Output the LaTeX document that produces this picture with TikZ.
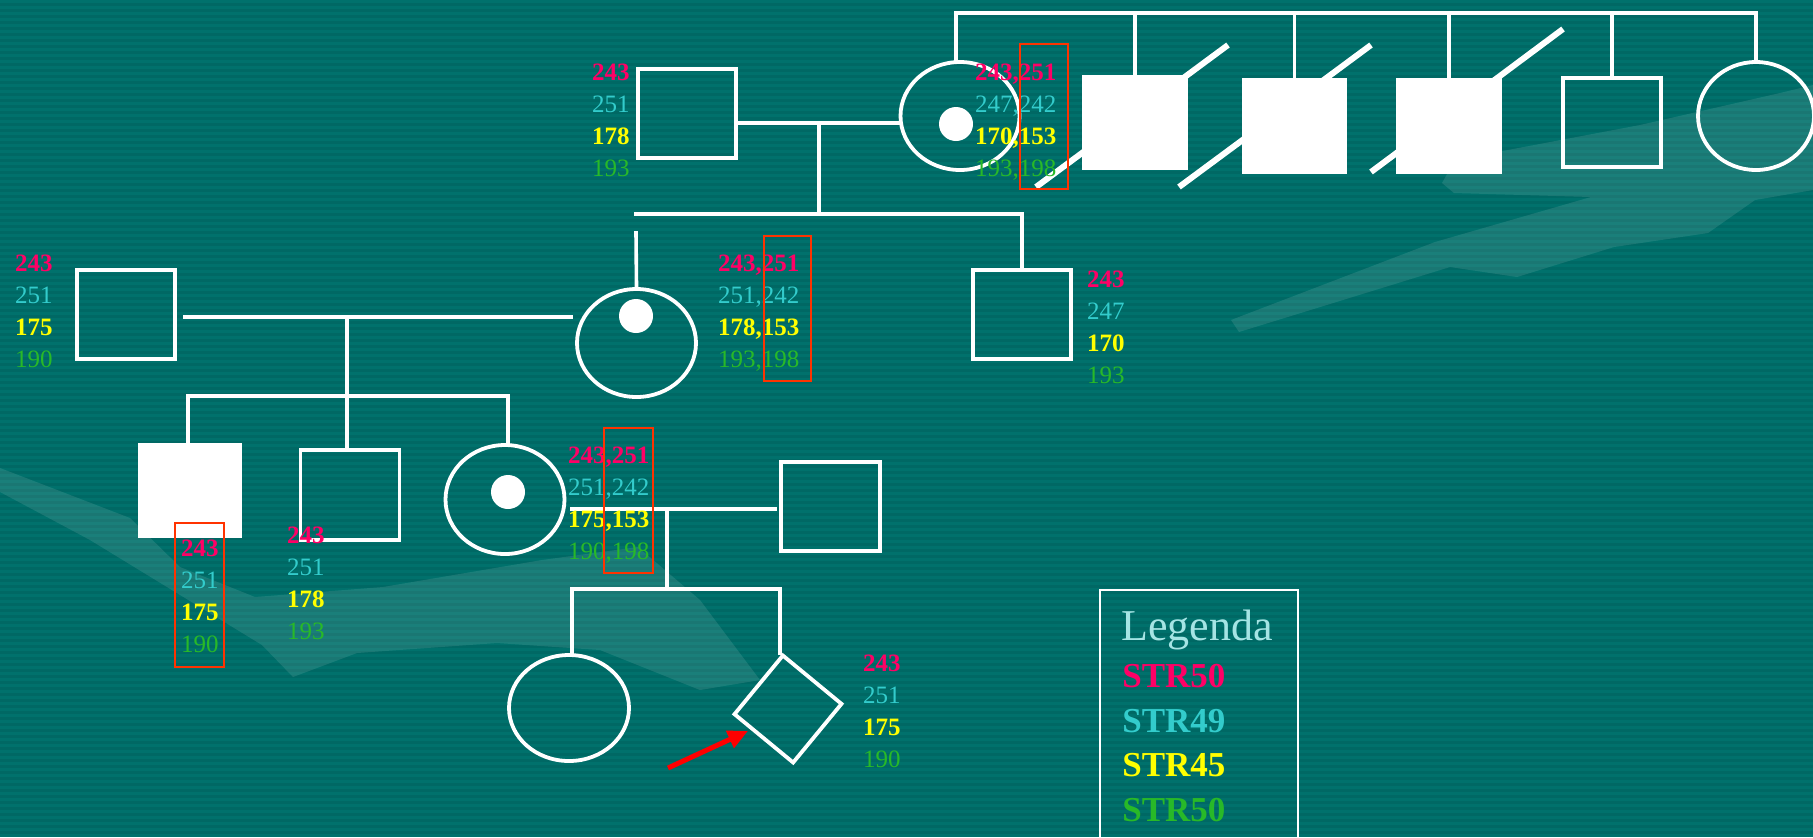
\documentclass[tikz,border=0pt]{standalone}
\usepackage{fontspec}
\setmainfont{Liberation Serif}
\usetikzlibrary{shapes.geometric,arrows.meta}
\definecolor{bg}{RGB}{0,104,100}
\definecolor{bgl}{RGB}{0,113,108}
\definecolor{cRed}{RGB}{255,0,102}
\definecolor{cTeal}{RGB}{51,204,204}
\definecolor{cYel}{RGB}{255,255,0}
\definecolor{cGrn}{RGB}{40,185,40}
\definecolor{cBox}{RGB}{255,51,0}
\definecolor{cLeg}{RGB}{165,228,228}
\tikzset{
  stripe/.style={bgl, line width=1.4pt},
  swoosh/.style={fill=white, fill opacity=0.10, draw=none},
  ln/.style={white, line width=1.8pt, line cap=rect},
  slashln/.style={white, line width=3pt},
  sq/.style={rectangle, draw=white, line width=1.9pt, inner sep=0pt},
  sqf/.style={rectangle, fill=white, inner sep=0pt},
  fem/.style={ellipse, draw=white, line width=1.9pt, inner sep=0pt},
  dotc/.style={circle, fill=white, inner sep=0pt, minimum size=17pt},
  hbox/.style={draw=cBox, line width=1.2pt},
  al/.style={anchor=base west, inner sep=0pt, outer sep=0pt},
  a1/.style={al, text=cRed, font=\fontsize{12.5}{15}\selectfont\bfseries},
  a2/.style={al, text=cTeal, font=\fontsize{12.5}{15}\selectfont},
  a3/.style={al, text=cYel, font=\fontsize{12.5}{15}\selectfont\bfseries},
  a4/.style={al, text=cGrn, font=\fontsize{12.5}{15}\selectfont},
  leg/.style={anchor=base west, inner sep=0pt},
  legbox/.style={draw=white, line width=1pt},
  redarrow/.style={draw=red, line width=2.5pt, -{Triangle[length=10pt,width=9pt]}}
}
\newcommand\alleles[7]{%
  \node[a1] (#1a) at (#2,#3+8.5) {#4};
  \node[a2] (#1b) at (#2,#3+40.5) {#5};
  \node[a3] (#1c) at (#2,#3+72.5) {#6};
  \node[a4] (#1d) at (#2,#3+104.5) {#7};}
\begin{document}
\begin{tikzpicture}[x=0.5pt,y=-0.5pt]
\useasboundingbox (0,0) rectangle (1813,837);
\fill[bg] (0,0) rectangle (1813,837);
\foreach \k in {0,...,139} \draw[stripe] (0,\k*6+1.5) -- (1813,\k*6+1.5);
% background swooshes
\fill[swoosh] (1442,183) -- (1455,160) -- (1640,125) -- (1780,93) -- (1813,85) -- (1813,190) -- (1755,200) -- (1708,233) -- (1614,247) -- (1517,277) -- (1450,267) -- (1239,332) -- (1231,320) -- (1435,242) -- (1591,197) -- (1454,193) -- cycle;
\fill[swoosh] (0,468) -- (130,518) -- (180,567) -- (255,597) -- (383,587) -- (542,560) -- (638,547) -- (700,600) -- (760,680) -- (700,690) -- (600,650) -- (497,643) -- (357,653) -- (293,677) -- (262,645) -- (90,540) -- (0,492) -- cycle;

% ---------- generation 1 ----------
\node[sq, minimum width=49pt, minimum height=44.5pt] (F1) at (687,113.5) {};
\node[fem, minimum width=59.5pt, minimum height=54pt] (M1) at (960,116) {};
\node[dotc] (M1d) at (956,124) {};
\node[sqf, minimum width=53pt, minimum height=47.5pt] (S1) at (1135,122.5) {};
\node[sqf, minimum width=52.5pt, minimum height=48pt] (S2) at (1294.5,126) {};
\node[sqf, minimum width=53pt, minimum height=48pt] (S3) at (1449,126) {};
\node[sq, minimum width=49pt, minimum height=44.5pt] (S4) at (1612,122.5) {};
\node[fem, minimum width=58pt, minimum height=54pt] (S5) at (1756,116) {};

\coordinate (t0) at (956,13);
\draw[ln] (M1.north -| t0) -- (t0) -- (t0 -| S5.north) -- (S5.north);
\foreach \n in {S1,S2,S3,S4} \draw[ln] (t0 -| \n.north) -- (\n.north);

\draw[slashln] ([shift={(-99,64.5)}]S1.center) -- ([shift={(93,-77.5)}]S1.center);
\draw[slashln] ([shift={(-115.5,61)}]S2.center) -- ([shift={(76.5,-81)}]S2.center);
\draw[slashln] ([shift={(-78,46)}]S3.center) -- ([shift={(114,-97)}]S3.center);

\coordinate (m1) at (819,123);
\draw[ln] (m1 -| F1.east) -- (m1 -| M1.west);
\coordinate (s1) at (819,214);
\draw[ln] (m1) -- (s1);

% ---------- generation 2 ----------
\node[sq, minimum width=49pt, minimum height=44.5pt] (F2) at (126,314.5) {};
\node[fem, minimum width=59.5pt, minimum height=54pt] (M2) at (636.5,343) {};
\node[dotc] (M2d) at (636,316) {};
\node[sq, minimum width=49pt, minimum height=44.5pt] (B2) at (1022,314.5) {};

\coordinate (s1L) at (636,214);
\coordinate (s1R) at (1022,214);
\draw[ln] (s1L) -- (s1R) -- (B2.north);
\coordinate (d2) at (636,233);
\draw[ln] (d2) -- (M2.north);

\coordinate (m2L) at (185,317);
\coordinate (m2R) at (571,317);
\draw[ln] (m2L) -- (m2R);
\coordinate (m2) at (347,317);

% ---------- generation 3 ----------
\node[sqf, minimum width=52pt, minimum height=47.5pt] (C1) at (190,490.5) {};
\node[sq, minimum width=49.5pt, minimum height=45pt] (C2) at (350,495) {};
\node[fem, minimum width=59.5pt, minimum height=54.5pt] (C3) at (505,499.5) {};
\node[dotc] (C3d) at (508,492) {};
\node[sq, minimum width=49.5pt, minimum height=44.5pt] (P3) at (830.5,506.5) {};

\draw[ln] (m2) -- (m2 |- C2.north);
\coordinate (s2L) at (188,396);
\coordinate (s2R) at (508,396);
\draw[ln] (C1.north -| s2L) -- (s2L) -- (s2R) -- (s2R |- C3.north);

\coordinate (m3L) at (572,509);
\coordinate (m3R) at (775,509);
\draw[ln] (m3L) -- (m3R);
\coordinate (m3) at (667,509);
\coordinate (s3) at (667,589);
\draw[ln] (m3) -- (s3);

% ---------- generation 4 ----------
\node[fem, minimum width=60pt, minimum height=53pt] (D1) at (569,708) {};
\node[sq, minimum width=38pt, minimum height=38pt, rotate=-39.5] (D2) at (788,709) {};
\coordinate (s3L) at (572,589);
\coordinate (s3R) at (780,589);
\draw[ln] (D1.north -| s3L) -- (s3L) -- (s3R) -- (s3R |- D2.north west);

\coordinate (arS) at (668,768);
\coordinate (arE) at (748,731);
\draw[redarrow] (arS) -- (arE);

% ---------- allele labels ----------
\alleles{LF1}{592}{72}{243}{251}{178}{193}
\alleles{LM1}{975}{72}{243,251}{247,242}{170,153}{193,198}
\alleles{LF2}{15}{263}{243}{251}{175}{190}
\alleles{LM2}{718}{263}{243,251}{251,242}{178,153}{193,198}
\alleles{LB2}{1087}{279}{243}{247}{170}{193}
\alleles{LC1}{181}{548}{243}{251}{175}{190}
\alleles{LC2}{287}{535}{243}{251}{178}{193}
\alleles{LC3}{568}{455}{243,251}{251,242}{175,153}{190,198}
\alleles{LD2}{863}{663}{243}{251}{175}{190}

\draw[hbox] (1020,44) rectangle (1068,189);
\draw[hbox] (764,236) rectangle (811,381);
\draw[hbox] (175,523) rectangle (224,667);
\draw[hbox] (604,428) rectangle (653,573);

% ---------- legend ----------
\draw[legbox] (1100,850) -- (1100,590) -- (1298,590) -- (1298,850);
\node[leg, text=cLeg, font=\fontsize{22}{26}\selectfont] (LgT) at (1121,640) {Legenda};
\node[leg, text=cRed, font=\fontsize{17.5}{21}\selectfont\bfseries] (Lg1) at (1122,687) {STR50};
\node[leg, text=cTeal, font=\fontsize{17.5}{21}\selectfont\bfseries] (Lg2) at (1122,732) {STR49};
\node[leg, text=cYel, font=\fontsize{17.5}{21}\selectfont\bfseries] (Lg3) at (1122,776) {STR45};
\node[leg, text=cGrn, font=\fontsize{17.5}{21}\selectfont\bfseries] (Lg4) at (1122,821) {STR50};
\end{tikzpicture}
\end{document}
